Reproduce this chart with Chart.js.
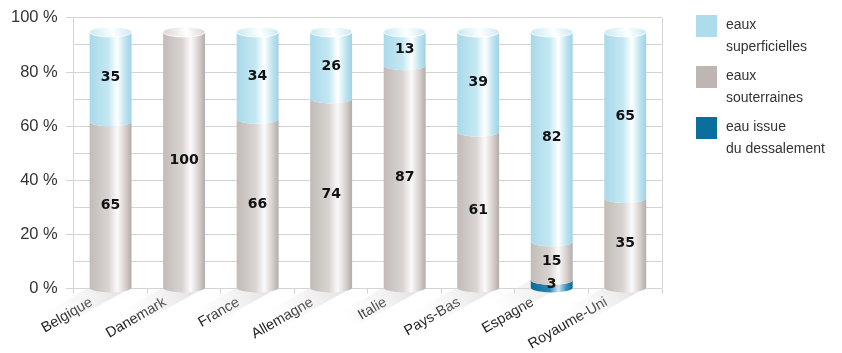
<!DOCTYPE html>
<html>
<head>
<meta charset="utf-8">
<script src="https://cdn.jsdelivr.net/npm/chart.js@4/dist/chart.umd.min.js"></script>
<style>
  html, body { margin: 0; padding: 0; background: #fff; }
  #wrap { position: relative; width: 842px; height: 353px; }
  #legend { position: absolute; left: 696px; top: 15px; font-family: 'Liberation Sans', sans-serif; font-size: 14px; color: #333; }
  .item { display: flex; align-items: flex-start; margin-bottom: 9px; }
  .swatch { width: 21px; height: 22px; margin-right: 9px; flex: none; }
  .txt { line-height: 22px; margin-top: -2px; }
</style>
</head>
<body>
<div id="wrap">
  <canvas id="chart" width="842" height="353"></canvas>
  <div id="legend"></div>
</div>
<script>
// Pays
const categories = ['Belgique', 'Danemark', 'France', 'Allemagne', 'Italie', 'Pays-Bas', 'Espagne', 'Royaume-Uni'];

// Parts (%) par origine de l'eau
const dessalement   = [0, 0, 0, 0, 0, 0, 3, 0];
const souterraines  = [65, 100, 66, 74, 87, 61, 15, 35];
const superficielles = [35, 0, 34, 26, 13, 39, 82, 65];

const seriesNames = [['eau issue', 'du dessalement'], ['eaux', 'souterraines'], ['eaux', 'superficielles']];
const yTicks = [0, 20, 40, 60, 80, 100];

// Couleurs (dégradés cylindriques)
const PALETTE = [
    { flat: '#0a6f9e', stops: ['#0b6a98', '#2a87b5', '#cfe6f1', '#3a92bd', '#0a6593'] },
    { flat: '#bdb6b3', stops: ['#c2bbb8', '#d9d4d2', '#fbfafa', '#d6d1cf', '#b3aca9'] },
    { flat: '#addcec', stops: ['#a9d9ea', '#c4e8f3', '#ffffff', '#bfe4f1', '#9fd2e4'] }
];

const RY = 5; // demi-hauteur de l'ellipse

function cylGradient(ctx, x0, x1, stops) {
    const g = ctx.createLinearGradient(x0, 0, x1, 0);
    g.addColorStop(0, stops[0]);
    g.addColorStop(0.45, stops[1]);
    g.addColorStop(0.66, stops[2]);
    g.addColorStop(0.85, stops[3]);
    g.addColorStop(1, stops[4]);
    return g;
}

const cylinderPlugin = {
    id: 'cylinders',
    beforeDatasetsDraw(chart) {
        const ctx = chart.ctx;
        const area = chart.chartArea;
        // bord droit du fond
        ctx.save();
        ctx.strokeStyle = '#d3d3d8';
        ctx.lineWidth = 1;
        ctx.beginPath();
        ctx.moveTo(Math.round(area.right) + 0.5, area.top);
        ctx.lineTo(Math.round(area.right) + 0.5, area.bottom);
        ctx.stroke();
        ctx.restore();

        const nCat = categories.length;
        const metas = chart.data.datasets.map((d, i) => chart.getDatasetMeta(i));

        // ombres au sol
        for (let c = 0; c < nCat; c++) {
            const el = metas[1].data[c];
            const half = el.width / 2;
            const base = el.base;
            ctx.save();
            const g = ctx.createLinearGradient(el.x, base, el.x - 60, base + 34);
            g.addColorStop(0, 'rgba(210,205,205,0.5)');
            g.addColorStop(1, 'rgba(240,238,238,0)');
            ctx.fillStyle = g;
            ctx.beginPath();
            ctx.moveTo(el.x - half, base);
            ctx.lineTo(el.x + half, base);
            ctx.lineTo(el.x + half - 64, base + 36);
            ctx.lineTo(el.x - half - 64, base + 36);
            ctx.closePath();
            ctx.fill();
            ctx.restore();
        }

        for (let c = 0; c < nCat; c++) {
            let topEl = null, topIdx = -1;
            metas.forEach((meta, di) => {
                const el = meta.data[c];
                const v = chart.data.datasets[di].data[c];
                if (!v) return;
                const half = el.width / 2;
                const x0 = el.x - half, x1 = el.x + half;
                const yTop = Math.min(el.y, el.base);
                const yBot = Math.max(el.y, el.base);
                ctx.save();
                ctx.fillStyle = cylGradient(ctx, x0, x1, PALETTE[di].stops);
                ctx.beginPath();
                ctx.moveTo(x0, yTop);
                ctx.lineTo(x0, yBot);
                ctx.ellipse(el.x, yBot, half, RY, 0, Math.PI, 0, true);
                ctx.lineTo(x1, yTop);
                ctx.ellipse(el.x, yTop, half, RY, 0, 0, Math.PI, false);
                ctx.closePath();
                ctx.fill();
                ctx.restore();
                topEl = el; topIdx = di;
            });
            if (topEl) {
                const half = topEl.width / 2;
                const yTop = Math.min(topEl.y, topEl.base);
                const st = PALETTE[topIdx].stops;
                ctx.save();
                const g = ctx.createLinearGradient(topEl.x - half, yTop + RY, topEl.x + half, yTop - RY);
                g.addColorStop(0, st[1]);
                g.addColorStop(0.55, '#ffffff');
                g.addColorStop(1, st[1]);
                ctx.fillStyle = g;
                ctx.beginPath();
                ctx.ellipse(topEl.x, yTop, half, RY, 0, 0, Math.PI * 2);
                ctx.fill();
                ctx.strokeStyle = 'rgba(255,255,255,0.8)';
                ctx.lineWidth = 1;
                ctx.stroke();
                ctx.restore();
            }
        }

        // valeurs
        ctx.save();
        ctx.font = 'bold 14px "DejaVu Sans", sans-serif';
        ctx.fillStyle = '#111';
        ctx.textAlign = 'center';
        ctx.textBaseline = 'middle';
        metas.forEach((meta, di) => {
            meta.data.forEach((el, c) => {
                const v = chart.data.datasets[di].data[c];
                if (!v) return;
                ctx.fillText(String(v), el.x, (el.y + el.base) / 2 + 1);
            });
        });
        ctx.restore();
        return false;
    }
};

const gridColor = '#d3d3d8';
const serieValues = [dessalement, souterraines, superficielles];

new Chart(document.getElementById('chart'), {
    type: 'bar',
    data: {
        labels: categories,
        datasets: serieValues.map((vals, i) => ({
            label: seriesNames[i].join(' '),
            data: vals,
            backgroundColor: PALETTE[i].flat,
            yAxisID: 'yData',
            barPercentage: 0.57,
            categoryPercentage: 1
        }))
    },
    options: {
        responsive: false,
        animation: false,
        layout: { padding: { left: 3, right: 180, top: 8, bottom: 0 } },
        plugins: { legend: { display: false }, tooltip: { enabled: false } },
        scales: {
            x: {
                stacked: true,
                grid: { display: true, drawOnChartArea: false, offset: true, tickLength: 5, color: gridColor },
                border: { display: false },
                ticks: {
                    color: '#222',
                    font: { family: 'Liberation Sans', size: 14.5 },
                    minRotation: 30,
                    maxRotation: 30,
                    labelOffset: -19,
                    padding: 0
                }
            },
            yData: {
                stacked: true,
                display: false,
                min: -0.4,
                max: 105.5
            },
            y: {
                position: 'left',
                min: 0,
                max: 100,
                border: { display: true, color: gridColor },
                grid: {
                    color: gridColor,
                    tickLength: 8,
                    tickColor: (c) => (yTicks.includes(c.tick.value) ? gridColor : 'rgba(0,0,0,0)')
                },
                ticks: {
                    stepSize: 10,
                    color: '#333',
                    padding: 8,
                    font: { family: 'Liberation Sans', size: 16.5 },
                    callback: (v) => (yTicks.includes(v) ? v + ' %' : '')
                }
            }
        }
    },
    plugins: [cylinderPlugin]
});

// Légende
const legendEl = document.getElementById('legend');
[2, 1, 0].forEach((i) => {
    const item = document.createElement('div');
    item.className = 'item';
    const sw = document.createElement('div');
    sw.className = 'swatch';
    sw.style.background = PALETTE[i].flat;
    const t = document.createElement('div');
    t.className = 'txt';
    t.innerHTML = seriesNames[i].join('<br>');
    item.appendChild(sw);
    item.appendChild(t);
    legendEl.appendChild(item);
});
</script>
</body>
</html>
